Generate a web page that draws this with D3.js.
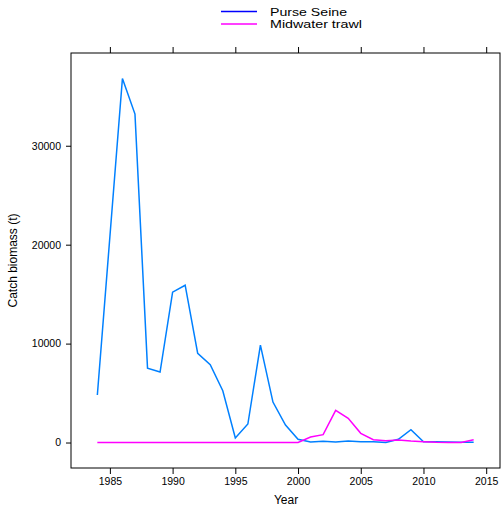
<!DOCTYPE html>
<html>
<head>
<meta charset="utf-8">
<script src="https://cdn.jsdelivr.net/npm/d3@7"></script>
<style>
  body{margin:0;background:#fff;}
  text{font-family:"Liberation Sans",Arial,sans-serif;}
</style>
</head>
<body>
<svg id="chart" width="501" height="509"></svg>
<script>
const years=d3.range(1984,2015)
const purseSeine=[4800,20800,36800,33200,7520,7120,15200,15900,9010,7860,5230,450,1870,9850,4090,1770,320,
  50,120,60,150,80,80,0,320,1300,80,80,50,20,20]
const midwater=[0,0,0,0,0,0,0,0,0,0,0,0,0,0,0,0,0,
  555,790,3250,2440,930,290,180,250,150,80,20,0,0,290]
const seriesNames=["Purse Seine","Midwater trawl"]
const xTicks=[1985,1990,1995,2000,2005,2010,2015]
const yTicks=[0,10000,20000,30000]

const svg=d3.select("#chart")
const pleft=71,pright=500,ptop=53,pbottom=468

// lattice pads the range by 7% each side
const xext=d3.extent(years),xpad=(xext[1]-xext[0])*0.07
const yext=[0,d3.max(purseSeine)],ypad=(yext[1]-yext[0])*0.07
const xscale=d3.scaleLinear().domain([xext[0]-xpad,xext[1]+xpad]).range([pleft,pright])
const yscale=d3.scaleLinear().domain([yext[0]-ypad,yext[1]+ypad]).range([pbottom,ptop])

// axes
const xaxis=d3.axisBottom(xscale).tickValues(xTicks).tickFormat(d3.format("d")).tickSize(6).tickPadding(4)
const gx=svg.append("g").attr("transform",`translate(0,${pbottom})`).call(xaxis)
const xtop=d3.axisTop(xscale).tickValues(xTicks).tickFormat("").tickSize(6)
const gxt=svg.append("g").attr("transform",`translate(0,${ptop})`).call(xtop)
const yaxis=d3.axisLeft(yscale).tickValues(yTicks).tickFormat(d3.format("d")).tickSize(5).tickPadding(5)
const gy=svg.append("g").attr("transform",`translate(${pleft},0)`).call(yaxis)
for(const g of [gx,gxt,gy]){
  g.select(".domain").remove()
  g.selectAll("line").attr("stroke","#000")
  g.selectAll("text").attr("font-size","10.5px").attr("fill","#000")
}

svg.append("rect")
  .attr("x",pleft).attr("y",ptop)
  .attr("width",pright-pleft).attr("height",pbottom-ptop)
  .attr("fill","none").attr("stroke","#000")

const line=d3.line().x((d,i)=>xscale(years[i])).y(d=>yscale(d))
svg.append("path").datum(purseSeine).attr("d",line)
  .attr("fill","none").attr("stroke","#0080FF").attr("stroke-width",1.5)
svg.append("path").datum(midwater).attr("d",line)
  .attr("fill","none").attr("stroke","#FF00FF").attr("stroke-width",1.5)

// legend
const legcol=["#0000FF","#FF00FF"]
const leg=svg.append("g")
leg.selectAll("line").data(seriesNames).enter().append("line")
  .attr("x1",221).attr("x2",257)
  .attr("y1",(d,i)=>11.5+i*12.5).attr("y2",(d,i)=>11.5+i*12.5)
  .attr("stroke",(d,i)=>legcol[i]).attr("stroke-width",1.5)
leg.selectAll("text").data(seriesNames).enter().append("text")
  .attr("x",270).attr("y",(d,i)=>15.5+i*12.5)
  .attr("font-size","11px")
  .attr("textLength",(d,i)=>i?92:77).attr("lengthAdjust","spacingAndGlyphs")
  .text(d=>d)

svg.append("text").attr("x",(pleft+pright)/2+0.5).attr("y",504)
  .attr("text-anchor","middle").attr("font-size","12px").text("Year")
svg.append("text").attr("transform",`translate(17,${(ptop+pbottom)/2}) rotate(-90)`)
  .attr("text-anchor","middle").attr("font-size","12px").text("Catch biomass (t)")
</script>
</body>
</html>
